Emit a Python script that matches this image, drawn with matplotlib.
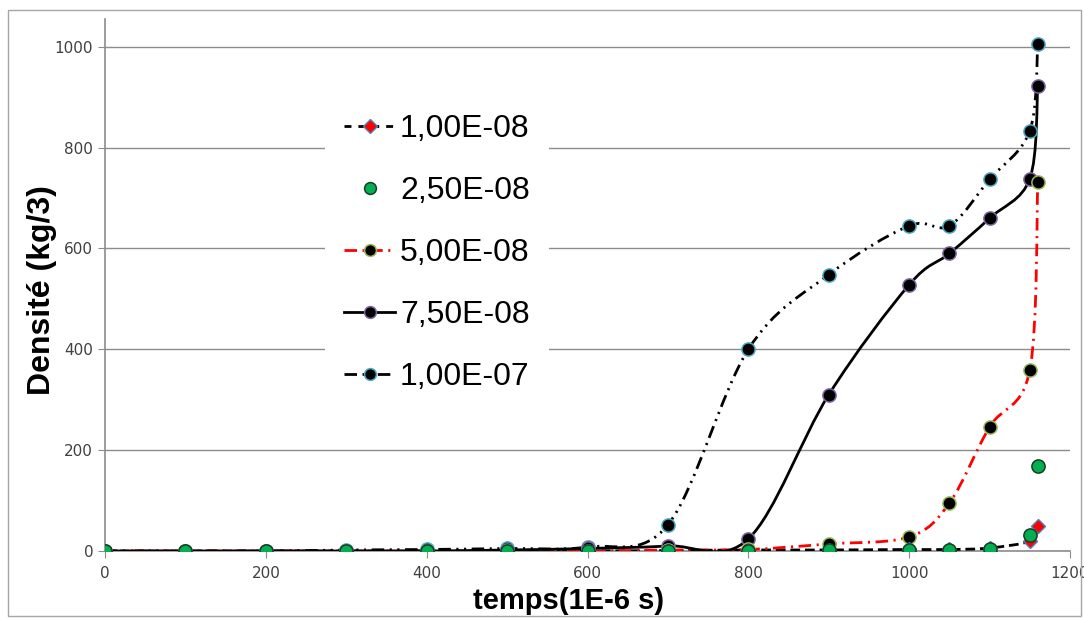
import matplotlib
matplotlib.use("Agg")
import matplotlib.pyplot as plt
import numpy as np
from matplotlib.lines import Line2D
from matplotlib.patches import PathPatch, Rectangle
from matplotlib.path import Path

# Data
temps = [0, 100, 200, 300, 400, 500, 600, 700, 800, 900, 1000, 1050, 1100, 1150, 1160]
dens_1e08 = [0, 0, 0, 0, 0, 0, 0, 1, 2, 2, 3, 3, 6, 20, 50]
dens_25e08 = [0, 0, 0, 0, 0, 0, 0, 0, 0, 1, 2, 2, 4, 32, 169]
dens_5e08 = [0, 0, 0, 0, 0, 0, 0, 2, 3, 14, 28, 95, 246, 359, 732]
dens_75e08 = [0, 0, 0, 0, 0, 2, 5, 10, 24, 310, 528, 590, 660, 738, 923]
dens_1e07 = [0, 0, 0, 2, 3, 5, 8, 52, 400, 548, 645, 645, 737, 833, 1006]
labels = ["1,00E-08", "2,50E-08", "5,00E-08", "7,50E-08", "1,00E-07"]

plt.rcParams["lines.scale_dashes"] = False


def smooth_path(xs, ys):
    # Excel-like smoothed line: cubic Bezier through the points (Catmull-Rom tangents)
    pts = np.column_stack([xs, ys]).astype(float)
    n = len(pts)
    verts = [pts[0]]
    codes = [Path.MOVETO]
    for i in range(n - 1):
        p0 = pts[i - 1] if i > 0 else pts[i]
        p1 = pts[i]
        p2 = pts[i + 1]
        p3 = pts[i + 2] if i + 2 < n else pts[i + 1]
        c1 = p1 + (p2 - p0) / 6.0
        c2 = p2 - (p3 - p1) / 6.0
        verts += [c1, c2, p2]
        codes += [Path.CURVE4] * 3
    return Path(verts, codes)


fig = plt.figure(figsize=(10.84, 6.19), dpi=100)
ax = fig.add_axes([105 / 1084, 1 - 551 / 619, (1070 - 105) / 1084, (551 - 19) / 619])

# outer chart border
fig.patches.append(Rectangle((8 / 1084, 3 / 619), 1073 / 1084, 606 / 619,
                             transform=fig.transFigure, fill=False,
                             edgecolor="#a6a6a6", linewidth=1))

ax.set_xlim(0, 1200)
ax.set_ylim(0, 1055)
ax.set_xticks(np.arange(0, 1201, 200))
ax.set_yticks(np.arange(0, 1001, 200))
ax.grid(axis="y", color="#8c8c8c", linewidth=1)
ax.set_axisbelow(True)
for s in ["top", "right"]:
    ax.spines[s].set_visible(False)
for s in ["left", "bottom"]:
    ax.spines[s].set_color("#8c8c8c")
    ax.spines[s].set_linewidth(1.2)
ax.tick_params(direction="out", length=5, color="#8c8c8c", labelsize=11,
               labelcolor="#404040")
ax.tick_params(axis="x", pad=6)

# smoothed lines
series = [
    (dens_1e08, dict(color="black", linestyle=(0, (7, 3.5)), linewidth=2)),
    (dens_5e08, dict(color="red", linestyle=(0, (9, 4, 1.5, 4)), linewidth=2)),
    (dens_75e08, dict(color="black", linestyle="-", linewidth=2)),
    (dens_1e07, dict(color="black", linestyle=(0, (9, 4, 1.5, 4, 1.5, 4)), linewidth=2)),
]
for vals, style in series:
    ax.add_patch(PathPatch(smooth_path(temps, vals), fill=False, zorder=3,
                           capstyle="butt", **style))

# markers
mk = dict(linestyle="none", markersize=9.5, markeredgewidth=1.1)
ax.plot(temps, dens_1e07, marker="o", color="black", markeredgecolor="#4bacc6", zorder=4, **mk)
ax.plot(temps, dens_75e08, marker="o", color="black", markeredgecolor="#8064a2", zorder=5, **mk)
ax.plot(temps, dens_5e08, marker="o", color="black", markeredgecolor="#9bbb59", zorder=6, **mk)
ax.plot(temps, dens_1e08, marker="D", color="red", markeredgecolor="#4f81bd",
        linestyle="none", markersize=7.5, markeredgewidth=1, zorder=7)
ax.plot(temps, dens_25e08, marker="o", color="#00b050", markeredgecolor="#1e3a28", zorder=8, **mk)

# legend
handles = [
    Line2D([], [], color="black", linestyle=(0, (5, 5)), linewidth=2, marker="D",
           markerfacecolor="red", markeredgecolor="#4f81bd", markersize=7),
    Line2D([], [], linestyle="none", marker="o", markerfacecolor="#00b050",
           markeredgecolor="#1e3a28", markersize=8.5, markeredgewidth=1.1),
    Line2D([], [], color="red", linestyle=(0, (9, 4, 1.5, 4)), linewidth=2, marker="o",
           markerfacecolor="black", markeredgecolor="#9bbb59", markersize=8.5, markeredgewidth=1.1),
    Line2D([], [], color="black", linestyle="-", linewidth=2, marker="o",
           markerfacecolor="black", markeredgecolor="#8064a2", markersize=8.5, markeredgewidth=1.1),
    Line2D([], [], color="black", linestyle=(0, (9, 4, 1.5, 4, 1.5, 4)), linewidth=2, marker="o",
           markerfacecolor="black", markeredgecolor="#4bacc6", markersize=8.5, markeredgewidth=1.1),
]
leg = fig.legend(handles, labels, loc="center",
                 bbox_to_anchor=(437 / 1084, 1 - 253 / 619),
                 prop=dict(family="Liberation Sans", size=23),
                 frameon=True, facecolor="white", edgecolor="none", framealpha=1,
                 handlelength=1.6, handletextpad=0.15, labelspacing=1.0,
                 borderpad=0.6, fancybox=False)

# axis titles
fig.text(569 / 1084, 1 - 601 / 619, "temps(1E-6 s)", ha="center", va="center",
         fontsize=21, fontweight="bold", family="Liberation Sans")
fig.text(42 / 1084, 1 - 290 / 619, "Densité (kg/3)", ha="center", va="center",
         rotation=90, fontsize=23, fontweight="bold", family="Liberation Sans")

fig.savefig("out.png", dpi=100)
